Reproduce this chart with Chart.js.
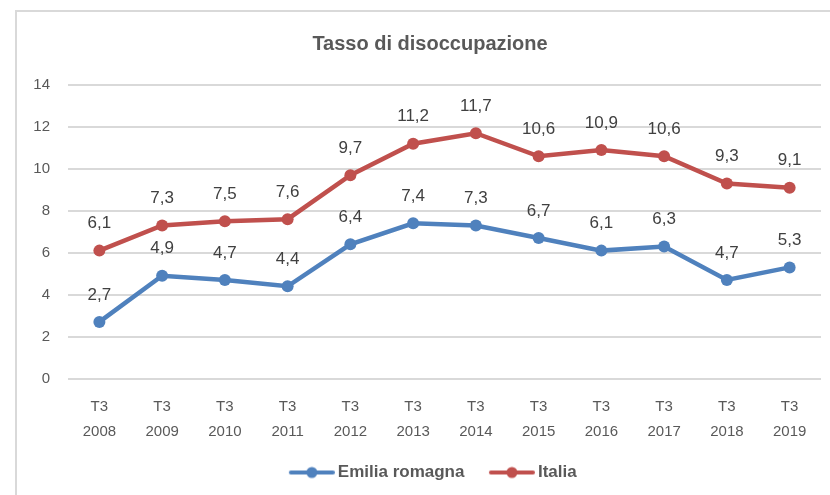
<!doctype html>
<html>
<head>
<meta charset="UTF-8">
<title>Tasso di disoccupazione</title>
<script src="https://cdn.jsdelivr.net/npm/chart.js@4.4.1/dist/chart.umd.min.js"></script>
<style>
  body { margin: 0; background: #fff; }
  #box { width: 830px; height: 495px; }
</style>
</head>
<body>
<div id="box"><canvas id="myChart"></canvas></div>

<script>
// data
var periodi = ['T3', 'T3', 'T3', 'T3', 'T3', 'T3', 'T3', 'T3', 'T3', 'T3', 'T3', 'T3'];
var anni = ['2008', '2009', '2010', '2011', '2012', '2013', '2014', '2015', '2016', '2017', '2018', '2019'];
var emilia = [2.7, 4.9, 4.7, 4.4, 6.4, 7.4, 7.3, 6.7, 6.1, 6.3, 4.7, 5.3];
var italia = [6.1, 7.3, 7.5, 7.6, 9.7, 11.2, 11.7, 10.6, 10.9, 10.6, 9.3, 9.1];
var titolo = 'Tasso di disoccupazione';

var blu = '#4f81bd';
var rosso = '#c0504d';
var grigio = '#595959';
var fonte = '"Liberation Sans", Arial, sans-serif';

var labels = [];
for (var i = 0; i < anni.length; i++) {
    labels.push([periodi[i], anni[i]]);
}

// line + dot icon for the legend; drawn at the right end of a wider canvas
// so it sits close to its text and further from the previous item
function legendIcon(color) {
    var c = document.createElement('canvas');
    c.width = 64; c.height = 14;
    var g = c.getContext('2d');
    var x0 = 64 - 46;
    g.strokeStyle = color;
    g.lineWidth = 4;
    g.lineCap = 'round';
    g.beginPath(); g.moveTo(x0 + 2, 7); g.lineTo(x0 + 44, 7); g.stroke();
    g.fillStyle = color;
    g.beginPath(); g.arc(x0 + 23, 7, 5.5, 0, Math.PI * 2); g.fill();
    return c;
}

// value labels above each point, comma decimals
var valueLabels = {
    id: 'valueLabels',
    afterDatasetsDraw: function(chart) {
        var ctx = chart.ctx;
        ctx.save();
        ctx.font = '17px ' + fonte;
        ctx.fillStyle = '#404040';
        ctx.textAlign = 'center';
        ctx.textBaseline = 'middle';
        chart.data.datasets.forEach(function(ds, di) {
            var meta = chart.getDatasetMeta(di);
            meta.data.forEach(function(pt, j) {
                var txt = String(ds.data[j]).replace('.', ',');
                ctx.fillText(txt, pt.x, pt.y - 27);
            });
        });
        ctx.restore();
    }
};

// chart frame and title (title centred on the frame, not the canvas)
var frame = {
    id: 'frame',
    afterLayout: function(chart) {
        // move the legend a bit to the right, like the reference
        chart.legend.left += 16;
        chart.legend.right += 16;
    },
    beforeDraw: function(chart) {
        var ctx = chart.ctx;
        ctx.save();
        ctx.fillStyle = '#fff';
        ctx.fillRect(0, 0, chart.width, chart.height);
        ctx.strokeStyle = '#d9d9d9';
        ctx.lineWidth = 2;
        ctx.strokeRect(16, 11, chart.width + 10, chart.height + 10);
        ctx.restore();
    },
    afterDraw: function(chart) {
        var ctx = chart.ctx;
        ctx.save();
        ctx.font = 'bold 20px ' + fonte;
        ctx.fillStyle = grigio;
        ctx.textAlign = 'center';
        ctx.textBaseline = 'middle';
        ctx.fillText(titolo, 430, 44);
        ctx.restore();
    }
};

var ctx = document.getElementById('myChart').getContext('2d');
var myChart = new Chart(ctx, {
    type: 'line',
    data: {
        labels: labels,
        datasets: [{
            label: 'Emilia romagna',
            data: emilia,
            borderColor: blu,
            backgroundColor: blu,
            borderWidth: 4.5,
            pointRadius: 6,
            pointBorderWidth: 0,
            pointBackgroundColor: blu,
            tension: 0
        }, {
            label: 'Italia',
            data: italia,
            borderColor: rosso,
            backgroundColor: rosso,
            borderWidth: 4.5,
            pointRadius: 6,
            pointBorderWidth: 0,
            pointBackgroundColor: rosso,
            tension: 0
        }]
    },
    options: {
        responsive: true,
        maintainAspectRatio: false,
        animation: false,
        layout: { padding: { left: 0, right: 9, top: 85, bottom: 4 } },
        plugins: {
            title: { display: false },
            legend: {
                position: 'bottom',
                labels: {
                    color: grigio,
                    font: { family: fonte, size: 17, weight: 'bold' },
                    usePointStyle: true,
                    pointStyleWidth: 53,
                    padding: 12,
                    generateLabels: function(chart) {
                        return chart.data.datasets.map(function(ds, i) {
                            return {
                                text: ds.label,
                                pointStyle: legendIcon(ds.borderColor),
                                fillStyle: ds.borderColor,
                                strokeStyle: ds.borderColor,
                                fontColor: grigio,
                                lineWidth: 0,
                                datasetIndex: i
                            };
                        });
                    }
                }
            },
            tooltip: { enabled: false }
        },
        scales: {
            x: {
                offset: true,
                grid: { display: false },
                border: { display: false },
                ticks: {
                    color: grigio,
                    font: { family: fonte, size: 15, lineHeight: 1.65 },
                    padding: 8,
                    maxRotation: 0
                }
            },
            y: {
                min: 0,
                max: 14,
                afterFit: function(scale) { scale.width = 68; },
                grid: { color: '#d9d9d9', lineWidth: 2, drawTicks: false },
                border: { display: false },
                ticks: {
                    stepSize: 2,
                    color: grigio,
                    font: { family: fonte, size: 15 },
                    padding: 18
                }
            }
        }
    },
    plugins: [frame, valueLabels]
});
</script>
</body>
</html>
